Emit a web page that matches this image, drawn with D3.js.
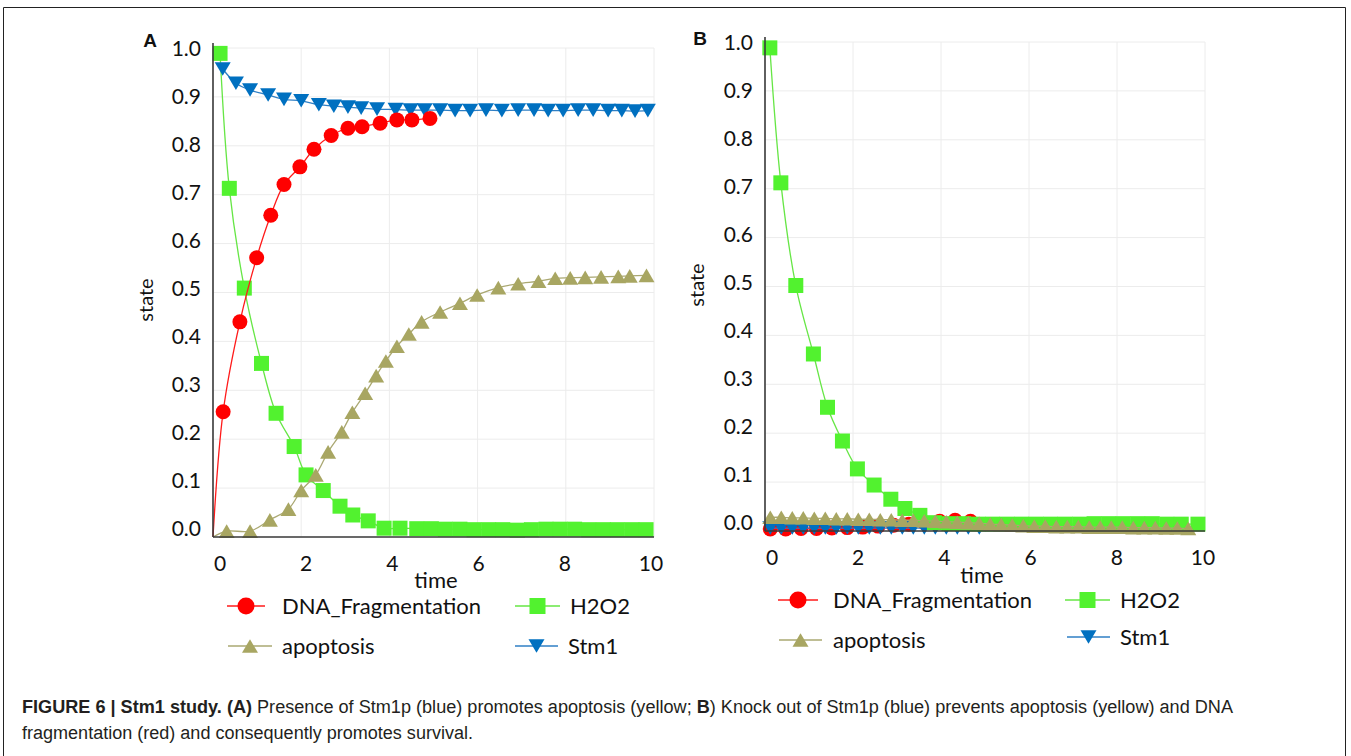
<!DOCTYPE html>
<html>
<head>
<meta charset="utf-8">
<script src="https://cdn.jsdelivr.net/npm/d3@7"></script>
<style>
  html, body { margin: 0; padding: 0; background: #fff; }
  svg { display: block; }
</style>
</head>
<body>
<svg id="chart" width="1351" height="756"></svg>
<script>
// ---------------- DATA ----------------
const seriesNames = ["DNA_Fragmentation", "H2O2", "apoptosis", "Stm1"];
const xTicks = [0, 2, 4, 6, 8, 10];
const yTicks = [0, 0.1, 0.2, 0.3, 0.4, 0.5, 0.6, 0.7, 0.8, 0.9, 1.0];
const yTickLabels = ["0.0", "0.1", "0.2", "0.3", "0.4", "0.5", "0.6", "0.7", "0.8", "0.9", "1.0"];
const panelLabels = ["A", "B"];
const xTitle = "time";
const yTitle = "state";

// Panel A
const aDnaT = [0, 0.23, 0.61, 0.99, 1.31, 1.61, 1.97, 2.29, 2.68, 3.06, 3.38, 3.79, 4.17, 4.51, 4.92];
const aDnaV = [0, 0.256, 0.44, 0.571, 0.658, 0.721, 0.757, 0.793, 0.821, 0.836, 0.839, 0.846, 0.853, 0.853, 0.856];

const aH2o2T = [0.16, 0.37, 0.71, 1.10, 1.43, 1.84, 2.11, 2.50, 2.88, 3.17, 3.52, 3.88, 4.24, 4.62, 4.95, 5.27, 5.60, 5.92, 6.25, 6.57, 6.90, 7.22, 7.55, 7.87, 8.20, 8.52, 8.85, 9.17, 9.50, 9.82];
const aH2o2V = [0.989, 0.713, 0.509, 0.355, 0.253, 0.185, 0.127, 0.095, 0.063, 0.045, 0.033, 0.018, 0.018, 0.017, 0.017, 0.016, 0.016, 0.015, 0.015, 0.015, 0.014, 0.015, 0.016, 0.016, 0.016, 0.015, 0.015, 0.015, 0.015, 0.015];

const aApoT = [0, 0.31, 0.84, 1.29, 1.71, 2.00, 2.33, 2.61, 2.92, 3.16, 3.45, 3.70, 3.92, 4.17, 4.44, 4.73, 5.15, 5.60, 5.99, 6.47, 6.92, 7.38, 7.76, 8.10, 8.44, 8.80, 9.19, 9.45, 9.83];
const aApoV = [0, 0.012, 0.012, 0.035, 0.057, 0.095, 0.127, 0.174, 0.215, 0.255, 0.294, 0.330, 0.360, 0.390, 0.415, 0.440, 0.460, 0.478, 0.495, 0.510, 0.518, 0.523, 0.529, 0.530, 0.531, 0.532, 0.533, 0.534, 0.535];

const aStmT = [0.22, 0.52, 0.84, 1.25, 1.61, 2.00, 2.40, 2.74, 3.06, 3.36, 3.72, 4.14, 4.48, 4.80, 5.15, 5.49, 5.83, 6.19, 6.55, 6.92, 7.28, 7.60, 7.94, 8.28, 8.62, 8.96, 9.27, 9.57, 9.86];
const aStmV = [0.957, 0.928, 0.914, 0.904, 0.895, 0.892, 0.884, 0.881, 0.879, 0.877, 0.875, 0.874, 0.873, 0.873, 0.873, 0.872, 0.872, 0.873, 0.872, 0.873, 0.873, 0.872, 0.872, 0.873, 0.873, 0.872, 0.872, 0.871, 0.872];

// Panel B
const bDnaT = [0.12, 0.47, 0.82, 1.17, 1.52, 1.87, 2.22, 2.57, 2.92, 3.27, 3.62, 3.97, 4.32, 4.67];
const bDnaV = [0.004, 0.004, 0.005, 0.005, 0.006, 0.007, 0.008, 0.010, 0.012, 0.014, 0.017, 0.020, 0.022, 0.020];

const bH2o2T = [0.11, 0.36, 0.70, 1.10, 1.42, 1.76, 2.10, 2.48, 2.86, 3.18, 3.52, 3.85, 4.18, 4.51, 4.84, 5.17, 5.50, 5.83, 6.16, 6.49, 6.82, 7.15, 7.48, 7.81, 8.14, 8.47, 8.80, 9.13, 9.46, 9.84];
const bH2o2V = [0.988, 0.712, 0.502, 0.362, 0.253, 0.184, 0.127, 0.094, 0.065, 0.046, 0.032, 0.017, 0.015, 0.015, 0.014, 0.014, 0.014, 0.014, 0.014, 0.014, 0.014, 0.014, 0.015, 0.015, 0.015, 0.015, 0.015, 0.014, 0.014, 0.014];

const bApoT = [0.12, 0.37, 0.62, 0.87, 1.12, 1.37, 1.62, 1.87, 2.12, 2.37, 2.62, 2.87, 3.12, 3.37, 3.62, 3.87, 4.12, 4.37, 4.62, 4.87, 5.12, 5.37, 5.62, 5.87, 6.12, 6.37, 6.62, 6.87, 7.12, 7.37, 7.62, 7.87, 8.12, 8.37, 8.62, 8.87, 9.12, 9.37, 9.62];
const bApoV = [0.028, 0.028, 0.027, 0.027, 0.026, 0.026, 0.025, 0.025, 0.024, 0.024, 0.023, 0.023, 0.022, 0.022, 0.021, 0.020, 0.019, 0.018, 0.017, 0.016, 0.014, 0.013, 0.012, 0.011, 0.010, 0.010, 0.009, 0.009, 0.009, 0.008, 0.008, 0.008, 0.008, 0.007, 0.007, 0.007, 0.006, 0.006, 0.005];

const bStmT = [0.12, 0.37, 0.62, 0.87, 1.12, 1.37, 1.62, 1.87, 2.12, 2.37, 2.62, 2.87, 3.12, 3.37, 3.62, 3.87, 4.12, 4.37, 4.62, 4.87];
const bStmV = [0.006, 0.006, 0.006, 0.006, 0.006, 0.006, 0.006, 0.006, 0.006, 0.006, 0.006, 0.006, 0.006, 0.006, 0.006, 0.006, 0.006, 0.006, 0.006, 0.006];

const captionLine1 = [
  {t: "FIGURE 6 | Stm1 study. (A)", b: true},
  {t: " Presence of Stm1p (blue) promotes apoptosis (yellow; ", b: false},
  {t: "B", b: true},
  {t: ") Knock out of Stm1p (blue) prevents apoptosis (yellow) and DNA", b: false}
];
const captionLine2 = "fragmentation (red) and consequently promotes survival.";

// ---------------- STYLE ----------------
const styles = {
  DNA_Fragmentation: {shape: "circle", fill: "#ff0000", line: "#ff1a1a"},
  H2O2: {shape: "square", fill: "#52f22f", line: "#66e645"},
  apoptosis: {shape: "up", fill: "#a8a662", line: "#aaa872"},
  Stm1: {shape: "down", fill: "#0070c0", line: "#2f7fc4"}
};
const FONT = "Lato, 'Open Sans', sans-serif";

function zip(t, v) { return t.map((d, i) => ({t: d, v: v[i]})); }

function markerPath(shape, s) {
  if (shape === "circle") return d3.symbol(d3.symbolCircle, Math.PI * (s / 2) * (s / 2))();
  if (shape === "square") return d3.symbol(d3.symbolSquare, s * s)();
  const w = s, h = s * 0.85;
  if (shape === "up") return `M0,${-h / 2}L${w / 2},${h / 2}L${-w / 2},${h / 2}Z`;
  return `M0,${h / 2}L${w / 2},${-h / 2}L${-w / 2},${-h / 2}Z`;
}
const markerSize = {circle: 15, square: 15, up: 16, down: 16};

const svg = d3.select("#chart");

// border
svg.append("path").attr("d", "M3.5,800 L3.5,7.5 L1345.5,7.5 L1345.5,800")
  .attr("fill", "none").attr("stroke", "#222").attr("stroke-width", 1);

function drawPanel(cfg) {
  const x = d3.scaleLinear().domain([0, 10]).range([cfg.x0, cfg.x1]);
  const y = d3.scaleLinear().domain([0, 1]).range([cfg.y0, cfg.y1]);
  const xl = d3.scaleLinear().domain([0, 10]).range(cfg.xLabRange);
  const yl = d3.scaleLinear().domain([0, 1]).range(cfg.yLabRange);
  const g = svg.append("g");

  // gridlines
  g.append("g").selectAll("line").data(yTicks).join("line")
    .attr("x1", cfg.x0).attr("x2", cfg.x1)
    .attr("y1", d => y(d)).attr("y2", d => y(d))
    .attr("stroke", "#ececec").attr("stroke-width", 1);
  g.append("g").selectAll("line").data(xTicks).join("line")
    .attr("x1", d => x(d)).attr("x2", d => x(d))
    .attr("y1", cfg.y0).attr("y2", cfg.y1)
    .attr("stroke", "#ececec").attr("stroke-width", 1);

  // tick labels
  g.append("g").selectAll("text").data(yTicks).join("text")
    .attr("x", cfg.x0 - 12).attr("y", d => yl(d)).attr("dy", "0.36em")
    .attr("text-anchor", "end").attr("font-family", FONT).attr("font-size", 21)
    .attr("fill", "#111").text((d, i) => yTickLabels[i]);
  g.append("g").selectAll("text").data(xTicks).join("text")
    .attr("x", d => xl(d)).attr("y", cfg.xLabY).attr("dy", "0.36em")
    .attr("text-anchor", "middle").attr("font-family", FONT).attr("font-size", 21)
    .attr("fill", "#111").text(d => d);

  // series
  cfg.order.forEach(key => {
    const s = cfg.series[key];
    const st = styles[key];
    const data = zip(s.t, s.v);
    const line = d3.line().x(d => x(d.t)).y(d => y(d.v)).curve(d3.curveCatmullRom.alpha(0.5));
    g.append("path").datum(data).attr("d", line)
      .attr("fill", "none").attr("stroke", st.line).attr("stroke-width", 1.3);
    g.append("g").selectAll("path").data(data.filter(d => d.t > 0)).join("path")
      .attr("transform", d => `translate(${x(d.t)},${y(d.v)})`)
      .attr("d", markerPath(st.shape, markerSize[st.shape]))
      .attr("fill", st.fill);
  });

  // axes lines
  g.append("line").attr("x1", cfg.x0).attr("x2", cfg.x0).attr("y1", cfg.y1 - 5).attr("y2", cfg.y0)
    .attr("stroke", "#3a3a3a").attr("stroke-width", 1.6);
  g.append("line").attr("x1", cfg.x0).attr("x2", cfg.x1).attr("y1", cfg.y0).attr("y2", cfg.y0)
    .attr("stroke", "#3a3a3a").attr("stroke-width", 1.6);

  // titles
  g.append("text").attr("x", cfg.timeX).attr("y", cfg.timeY).attr("dy", "0.36em")
    .attr("text-anchor", "middle").attr("font-family", FONT).attr("font-size", 22)
    .attr("fill", "#111").text(xTitle);
  g.append("text").attr("transform", `translate(${cfg.stateX},${cfg.stateY}) rotate(-90)`)
    .attr("dy", "0.36em").attr("text-anchor", "middle").attr("font-family", FONT)
    .attr("font-size", 20).attr("fill", "#111").text(yTitle);
  g.append("text").attr("x", cfg.labX).attr("y", cfg.labY).attr("dy", "0.36em")
    .attr("text-anchor", "middle").attr("font-family", "'Liberation Sans', Arial, sans-serif")
    .attr("font-weight", "bold").attr("font-size", 19).attr("fill", "#111").text(cfg.label);

  // legend
  cfg.legend.forEach((L, i) => {
    const key = seriesNames[i];
    const st = styles[key];
    g.append("line").attr("x1", L.x1).attr("x2", L.x2).attr("y1", L.y).attr("y2", L.y)
      .attr("stroke", st.line).attr("stroke-width", 1.3);
    g.append("path").attr("transform", `translate(${(L.x1 + L.x2) / 2},${L.y})`)
      .attr("d", markerPath(st.shape, st.shape === "circle" ? 17 : 16)).attr("fill", st.fill);
    g.append("text").attr("x", L.tx).attr("y", L.y).attr("dy", "0.36em")
      .attr("font-family", FONT).attr("font-size", 22).attr("fill", "#111").text(key);
  });
}

drawPanel({
  label: panelLabels[0], labX: 150, labY: 40,
  x0: 213, x1: 654, y0: 537, y1: 48,
  xLabRange: [220, 651], yLabRange: [528, 48], xLabY: 563,
  timeX: 436, timeY: 580, stateX: 146, stateY: 300,
  order: ["H2O2", "Stm1", "DNA_Fragmentation", "apoptosis"],
  series: {
    DNA_Fragmentation: {t: aDnaT, v: aDnaV},
    H2O2: {t: aH2o2T, v: aH2o2V},
    apoptosis: {t: aApoT, v: aApoV},
    Stm1: {t: aStmT, v: aStmV}
  },
  legend: [
    {x1: 227, x2: 265, y: 606, tx: 282},
    {x1: 515, x2: 560, y: 606, tx: 570},
    {x1: 228, x2: 272, y: 646, tx: 282},
    {x1: 515, x2: 558, y: 646, tx: 568}
  ]
});

drawPanel({
  label: panelLabels[1], labX: 700, labY: 38,
  x0: 765, x1: 1205, y0: 531, y1: 42,
  xLabRange: [772, 1203], yLabRange: [522, 42], xLabY: 557,
  timeX: 982, timeY: 575, stateX: 697, stateY: 285,
  order: ["DNA_Fragmentation", "Stm1", "H2O2", "apoptosis"],
  series: {
    DNA_Fragmentation: {t: bDnaT, v: bDnaV},
    H2O2: {t: bH2o2T, v: bH2o2V},
    apoptosis: {t: bApoT, v: bApoV},
    Stm1: {t: bStmT, v: bStmV}
  },
  legend: [
    {x1: 778, x2: 818, y: 600, tx: 833},
    {x1: 1065, x2: 1110, y: 600, tx: 1120},
    {x1: 779, x2: 822, y: 640, tx: 833},
    {x1: 1067, x2: 1110, y: 637, tx: 1120}
  ]
});

// caption
const capFont = "'Liberation Sans Narrow', 'Arial Narrow', 'Liberation Sans', sans-serif";
const c1 = svg.append("text").attr("x", 22).attr("y", 713)
  .attr("font-family", capFont).attr("font-size", 18).attr("fill", "#231f20")
  .attr("textLength", 1211).attr("lengthAdjust", "spacingAndGlyphs");
captionLine1.forEach(p => c1.append("tspan").attr("font-weight", p.b ? "bold" : "normal").text(p.t));
svg.append("text").attr("x", 22).attr("y", 739)
  .attr("font-family", capFont).attr("font-size", 18).attr("fill", "#231f20")
  .attr("textLength", 451).attr("lengthAdjust", "spacingAndGlyphs")
  .text(captionLine2);
</script>
</body>
</html>
